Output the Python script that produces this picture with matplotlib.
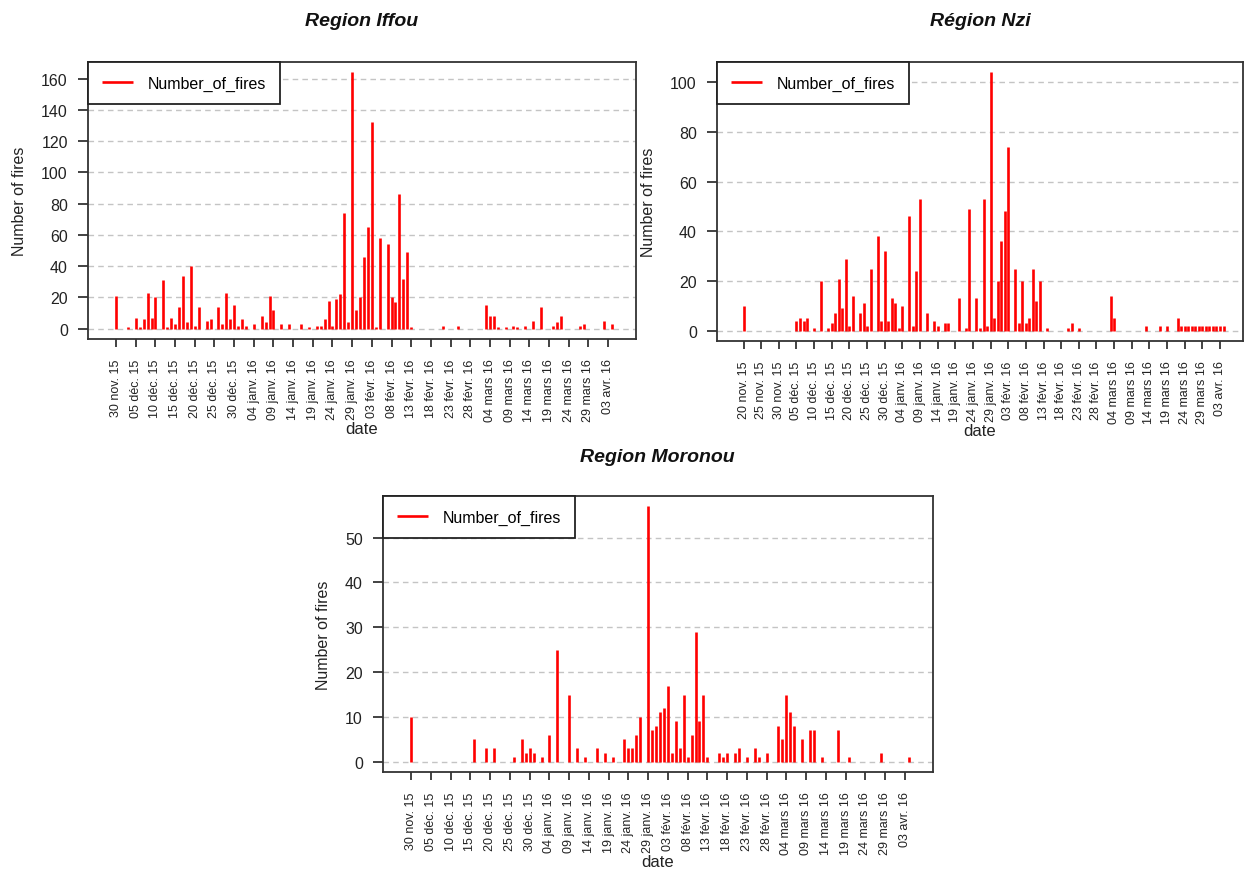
import matplotlib
matplotlib.use("Agg")
import matplotlib.pyplot as plt
import matplotlib.dates as mdates
from matplotlib.ticker import MultipleLocator
import pandas as pd

plt.rcParams['font.family'] = ['Liberation Sans', 'DejaVu Sans']

# Daily fire counts per region (days with no fire are left out)
iffou_dates = ["2015-11-30", "2015-12-03", "2015-12-05", "2015-12-06", "2015-12-07", "2015-12-08",
               "2015-12-09", "2015-12-10", "2015-12-12", "2015-12-13", "2015-12-14", "2015-12-15",
               "2015-12-16", "2015-12-17", "2015-12-18", "2015-12-19", "2015-12-20", "2015-12-21",
               "2015-12-23", "2015-12-24", "2015-12-26", "2015-12-27", "2015-12-28", "2015-12-29",
               "2015-12-30", "2015-12-31", "2016-01-01", "2016-01-02", "2016-01-04", "2016-01-06",
               "2016-01-07", "2016-01-08", "2016-01-09", "2016-01-11", "2016-01-13", "2016-01-16",
               "2016-01-18", "2016-01-20", "2016-01-21", "2016-01-22", "2016-01-23", "2016-01-24",
               "2016-01-25", "2016-01-26", "2016-01-27", "2016-01-28", "2016-01-29", "2016-01-30",
               "2016-01-31", "2016-02-01", "2016-02-02", "2016-02-03", "2016-02-04", "2016-02-05",
               "2016-02-07", "2016-02-08", "2016-02-09", "2016-02-10", "2016-02-11", "2016-02-12",
               "2016-02-13", "2016-02-21", "2016-02-25", "2016-03-03", "2016-03-04", "2016-03-05",
               "2016-03-06", "2016-03-08", "2016-03-10", "2016-03-11", "2016-03-13", "2016-03-15",
               "2016-03-17", "2016-03-20", "2016-03-21", "2016-03-22", "2016-03-27", "2016-03-28",
               "2016-04-02", "2016-04-04"]
iffou_fires = [21, 1, 7, 1, 6, 23,
               7, 20, 31, 1, 7, 3,
               14, 34, 4, 40, 2, 14,
               5, 6, 14, 3, 23, 6,
               15, 2, 6, 2, 3, 8,
               4, 21, 12, 3, 3, 3,
               1, 2, 2, 6, 18, 2,
               19, 22, 74, 4, 164, 12,
               20, 46, 65, 132, 1, 58,
               54, 20, 17, 86, 32, 49,
               1, 2, 2, 15, 8, 8,
               1, 1, 2, 1, 2, 5,
               14, 2, 4, 8, 2, 3,
               5, 3]

nzi_dates = ["2015-11-20", "2015-12-05", "2015-12-06", "2015-12-07", "2015-12-08", "2015-12-10",
             "2015-12-12", "2015-12-14", "2015-12-15", "2015-12-16", "2015-12-17", "2015-12-18",
             "2015-12-19", "2015-12-20", "2015-12-21", "2015-12-23", "2015-12-24", "2015-12-25",
             "2015-12-26", "2015-12-28", "2015-12-29", "2015-12-30", "2015-12-31", "2016-01-01",
             "2016-01-02", "2016-01-03", "2016-01-04", "2016-01-06", "2016-01-07", "2016-01-08",
             "2016-01-09", "2016-01-11", "2016-01-13", "2016-01-14", "2016-01-16", "2016-01-17",
             "2016-01-20", "2016-01-22", "2016-01-23", "2016-01-25", "2016-01-26", "2016-01-27",
             "2016-01-28", "2016-01-29", "2016-01-30", "2016-01-31", "2016-02-01", "2016-02-02",
             "2016-02-03", "2016-02-05", "2016-02-06", "2016-02-07", "2016-02-08", "2016-02-09",
             "2016-02-10", "2016-02-11", "2016-02-12", "2016-02-14", "2016-02-20", "2016-02-21",
             "2016-02-23", "2016-03-03", "2016-03-04", "2016-03-13", "2016-03-17", "2016-03-19",
             "2016-03-22", "2016-03-23", "2016-03-24", "2016-03-25", "2016-03-26", "2016-03-27",
             "2016-03-28", "2016-03-29", "2016-03-30", "2016-03-31", "2016-04-01", "2016-04-02",
             "2016-04-03", "2016-04-04"]
nzi_fires = [10, 4, 5, 4, 5, 1,
             20, 1, 3, 7, 21, 9,
             29, 2, 14, 7, 11, 2,
             25, 38, 4, 32, 4, 13,
             11, 1, 10, 46, 2, 24,
             53, 7, 4, 2, 3, 3,
             13, 1, 49, 13, 1, 53,
             2, 104, 5, 20, 36, 48,
             74, 25, 3, 20, 3, 5,
             25, 12, 20, 1, 1, 3,
             1, 14, 5, 2, 2, 2,
             5, 2, 2, 2, 2, 2,
             2, 2, 2, 2, 2, 2,
             2, 2]

moronou_dates = ["2015-11-30", "2015-12-16", "2015-12-19", "2015-12-21", "2015-12-26", "2015-12-28",
                 "2015-12-29", "2015-12-30", "2015-12-31", "2016-01-02", "2016-01-04", "2016-01-06",
                 "2016-01-09", "2016-01-11", "2016-01-13", "2016-01-16", "2016-01-18", "2016-01-20",
                 "2016-01-23", "2016-01-24", "2016-01-25", "2016-01-26", "2016-01-27", "2016-01-29",
                 "2016-01-30", "2016-01-31", "2016-02-01", "2016-02-02", "2016-02-03", "2016-02-04",
                 "2016-02-05", "2016-02-06", "2016-02-07", "2016-02-08", "2016-02-09", "2016-02-10",
                 "2016-02-11", "2016-02-12", "2016-02-13", "2016-02-16", "2016-02-17", "2016-02-18",
                 "2016-02-20", "2016-02-21", "2016-02-23", "2016-02-25", "2016-02-26", "2016-02-28",
                 "2016-03-02", "2016-03-03", "2016-03-04", "2016-03-05", "2016-03-06", "2016-03-08",
                 "2016-03-10", "2016-03-11", "2016-03-13", "2016-03-17", "2016-03-20", "2016-03-28",
                 "2016-04-04"]
moronou_fires = [10, 5, 3, 3, 1, 5,
                 2, 3, 2, 1, 6, 25,
                 15, 3, 1, 3, 2, 1,
                 5, 3, 3, 6, 10, 57,
                 7, 8, 11, 12, 17, 2,
                 9, 3, 15, 1, 6, 29,
                 9, 15, 1, 2, 1, 2,
                 2, 3, 1, 3, 1, 2,
                 8, 5, 15, 11, 8, 5,
                 7, 7, 1, 7, 1, 2,
                 1]

titles = ["Region Iffou", "Région Nzi", "Region Moronou"]
period_start = ["2015-11-28", "2015-11-18", "2015-11-28"]
period_end = ["2016-04-05", "2016-04-04", "2016-04-05"]
first_tick = ["2015-11-30", "2015-11-20", "2015-11-30"]
last_tick = "2016-04-03"
y_steps = [20, 20, 10]

mois = {11: "nov.", 12: "déc.", 1: "janv.", 2: "févr.", 3: "mars", 4: "avr."}

fig = plt.figure(figsize=(12.45, 8.7), dpi=100)
W, H = 1245, 870


def panel(left, top, right, bottom):
    return fig.add_axes([left / W, 1 - bottom / H, (right - left) / W, (bottom - top) / H])


axes = [panel(88, 63, 636, 340), panel(717, 63, 1243, 342), panel(383, 497, 933, 773)]
series = [(iffou_dates, iffou_fires), (nzi_dates, nzi_fires), (moronou_dates, moronou_fires)]
title_pos = [(362, 22), (980, 22), (657, 458)]

for i, ax in enumerate(axes):
    dates, fires = series[i]
    x = mdates.date2num(pd.to_datetime(dates))
    ax.vlines(x, 0, fires, color="red", linewidth=1.9, label="Number_of_fires", zorder=3)

    # R-like 4 % padding around the observation period and the data
    x0 = mdates.date2num(pd.Timestamp(period_start[i]))
    x1 = mdates.date2num(pd.Timestamp(period_end[i]))
    pad = 0.04 * (x1 - x0)
    ax.set_xlim(x0 - pad, x1 + pad)
    top = max(fires)
    ax.set_ylim(-0.04 * top, 1.04 * top)

    ticks = pd.date_range(first_tick[i], last_tick, freq="5D")
    ax.set_xticks(mdates.date2num(ticks))
    ax.set_xticklabels([f"{d:%d} {mois[d.month]} {d:%y}" for d in ticks],
                       rotation=90, fontsize=9, color="#222222")
    ax.yaxis.set_major_locator(MultipleLocator(y_steps[i]))
    ax.tick_params(axis="y", labelsize=11.5, colors="#222222", length=7, width=1.2, pad=7.5)
    ax.tick_params(axis="x", length=5.5, width=1.2, pad=8.5, colors="#222222")

    ax.yaxis.grid(True, linestyle=(0, (4, 3)), color="#c4c4c4", linewidth=1)
    ax.set_axisbelow(True)
    for s in ax.spines.values():
        s.set_color("#333333")
        s.set_linewidth(1.3)

    ax.set_xlabel("date", fontsize=12, color="#222222", labelpad=0)
    ax.set_ylabel("Number of fires", fontsize=11.5, color="#222222", labelpad=10)

    leg = ax.legend(loc="upper left", borderaxespad=0, fontsize=11.5, fancybox=False,
                    framealpha=1, edgecolor="#222222", handlelength=1.95, handletextpad=0.95,
                    borderpad=0.85)
    leg.get_frame().set_linewidth(1.3)

    tx, ty = title_pos[i]
    fig.text(tx / W, 1 - ty / H, titles[i], ha="center", va="center",
             fontsize=14, fontweight="bold", fontstyle="italic", color="#111111")

fig.savefig("out.png", dpi=100)
